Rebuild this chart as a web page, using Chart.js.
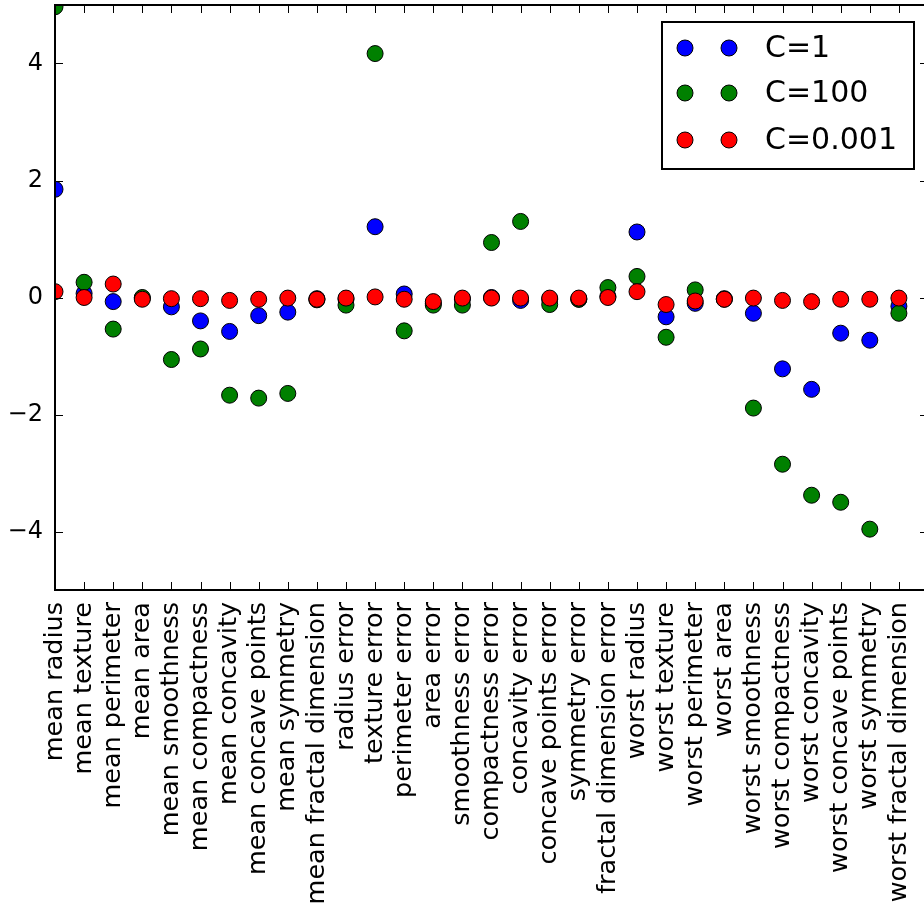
<!DOCTYPE html>
<html lang="en">
<head>
  <meta charset="UTF-8" />
  <title>Logistic regression coefficients</title>
  <script src="https://cdn.jsdelivr.net/npm/chart.js"></script>
  <style>
    html, body {
      margin: 0;
      padding: 0;
      background: #fff;
      overflow: hidden;
    }
    .chart-container {
      width: 940px;
      height: 910px;
    }
  </style>
</head>
<body>
  <div class="chart-container">
    <canvas id="coefChart"></canvas>
  </div>

  <script>
    const featureNames = [
      'mean radius', 'mean texture', 'mean perimeter', 'mean area', 'mean smoothness',
      'mean compactness', 'mean concavity', 'mean concave points', 'mean symmetry',
      'mean fractal dimension', 'radius error', 'texture error', 'perimeter error',
      'area error', 'smoothness error', 'compactness error', 'concavity error',
      'concave points error', 'symmetry error', 'fractal dimension error',
      'worst radius', 'worst texture', 'worst perimeter', 'worst area',
      'worst smoothness', 'worst compactness', 'worst concavity',
      'worst concave points', 'worst symmetry', 'worst fractal dimension'
    ];

    const coefC1 = [1.85, 0.07, -0.07, -0.01, -0.16, -0.40, -0.58, -0.31, -0.25, -0.02,
                    -0.03, 1.21, 0.06, -0.10, -0.03, 0.00, -0.05, -0.03, -0.03, 0.02,
                    1.12, -0.33, -0.10, -0.02, -0.27, -1.22, -1.57, -0.61, -0.73, -0.15];
    const coefC100 = [4.97, 0.26, -0.54, 0.00, -1.06, -0.88, -1.67, -1.72, -1.64, -0.04,
                      -0.13, 4.17, -0.57, -0.13, -0.13, 0.94, 1.30, -0.12, -0.03, 0.17,
                      0.36, -0.68, 0.13, -0.03, -1.89, -2.85, -3.38, -3.50, -3.96, -0.27];
    const coefC0001 = [0.10, 0.00, 0.23, -0.03, -0.02, -0.02, -0.05, -0.03, -0.01, -0.03,
                       -0.01, 0.01, -0.03, -0.07, -0.01, -0.01, -0.01, -0.01, -0.01, 0.00,
                       0.10, -0.12, -0.06, -0.03, -0.01, -0.05, -0.07, -0.03, -0.03, -0.01];

    const yTicks = [-4, -2, 0, 2, 4];
    const legendLabels = ['C=1', 'C=100', 'C=0.001'];
    const seriesColors = ['#0000ff', '#008000', '#ff0000'];

    const FONT = '"DejaVu Sans", sans-serif';

    const toPoints = arr => arr.map((v, i) => ({ x: i, y: v }));

    function makeSet(label, values, color, order) {
      return {
        label: label,
        data: toPoints(values),
        pointStyle: 'circle',
        pointRadius: 8,
        pointHoverRadius: 8,
        pointBackgroundColor: color,
        pointBorderColor: '#000',
        pointBorderWidth: 1,
        showLine: false,
        clip: 0,
        order: order
      };
    }

    // scales should not push the plot area inwards for label overhang
    function noOverhang(s) {
      s.paddingTop = 0;
      s.paddingBottom = 0;
      s.paddingLeft = 0;
      s.paddingRight = 0;
    }

    // frame, inward tick marks and the boxed legend
    const framePlugin = {
      id: 'frame',
      afterDraw(chart) {
        const ctx = chart.ctx;
        const a = chart.chartArea;
        const xs = chart.scales.x;
        const ys = chart.scales.y;
        ctx.save();
        ctx.strokeStyle = '#000';
        ctx.lineWidth = 1;
        ctx.beginPath();
        featureNames.forEach((_, i) => {
          const px = Math.round(xs.getPixelForValue(i)) + 0.5;
          ctx.moveTo(px, a.bottom); ctx.lineTo(px, a.bottom - 8);
          ctx.moveTo(px, a.top); ctx.lineTo(px, a.top + 8);
        });
        yTicks.forEach(v => {
          const py = Math.round(ys.getPixelForValue(v)) + 0.5;
          ctx.moveTo(a.left, py); ctx.lineTo(a.left + 8, py);
          ctx.moveTo(a.right, py); ctx.lineTo(a.right - 8, py);
        });
        ctx.stroke();

        ctx.lineWidth = 2;
        ctx.strokeRect(a.left, a.top, a.right - a.left, a.bottom - a.top);

        // legend
        const bx = 662, by = 22, bw = 252, bh = 147;
        ctx.fillStyle = '#fff';
        ctx.fillRect(bx, by, bw, bh);
        ctx.strokeRect(bx, by, bw, bh);
        const rows = [48, 93, 140];
        ctx.font = '30px ' + FONT;
        ctx.textBaseline = 'middle';
        ctx.textAlign = 'left';
        legendLabels.forEach((lab, i) => {
          [685, 729].forEach(mx => {
            ctx.beginPath();
            ctx.arc(mx, rows[i], 8, 0, Math.PI * 2);
            ctx.fillStyle = seriesColors[i];
            ctx.fill();
            ctx.lineWidth = 1;
            ctx.stroke();
          });
          ctx.fillStyle = '#000';
          ctx.fillText(lab, 765, rows[i] + 1);
        });
        ctx.restore();
      }
    };

    new Chart(document.getElementById('coefChart'), {
      type: 'scatter',
      data: {
        datasets: [
          makeSet(legendLabels[0], coefC1, seriesColors[0], 3),
          makeSet(legendLabels[1], coefC100, seriesColors[1], 2),
          makeSet(legendLabels[2], coefC0001, seriesColors[2], 1)
        ]
      },
      options: {
        responsive: true,
        maintainAspectRatio: false,
        animation: false,
        layout: { autoPadding: false, padding: { top: 5, right: 12, left: 0, bottom: 0 } },
        plugins: {
          legend: { display: false },
          tooltip: { enabled: false }
        },
        scales: {
          x: {
            type: 'linear',
            min: 0,
            max: 30,
            grid: { display: false, drawTicks: false },
            border: { display: false },
            afterBuildTicks: s => { s.ticks = featureNames.map((_, i) => ({ value: i })); },
            afterFit: s => { s.height = 320; noOverhang(s); },
            ticks: {
              autoSkip: false,
              minRotation: 90,
              maxRotation: 90,
              padding: 12,
              color: '#000',
              font: { family: FONT, size: 25.5 },
              callback: v => featureNames[v]
            }
          },
          y: {
            type: 'linear',
            min: -5,
            max: 5,
            grid: { display: false, drawTicks: false },
            border: { display: false },
            afterBuildTicks: s => { s.ticks = yTicks.map(v => ({ value: v })); },
            afterFit: s => { s.width = 55; noOverhang(s); },
            ticks: {
              padding: 12,
              color: '#000',
              font: { family: FONT, size: 24 },
              callback: v => (v < 0 ? '\u2212' + Math.abs(v) : String(v))
            }
          }
        }
      },
      plugins: [framePlugin]
    });
  </script>
</body>
</html>
